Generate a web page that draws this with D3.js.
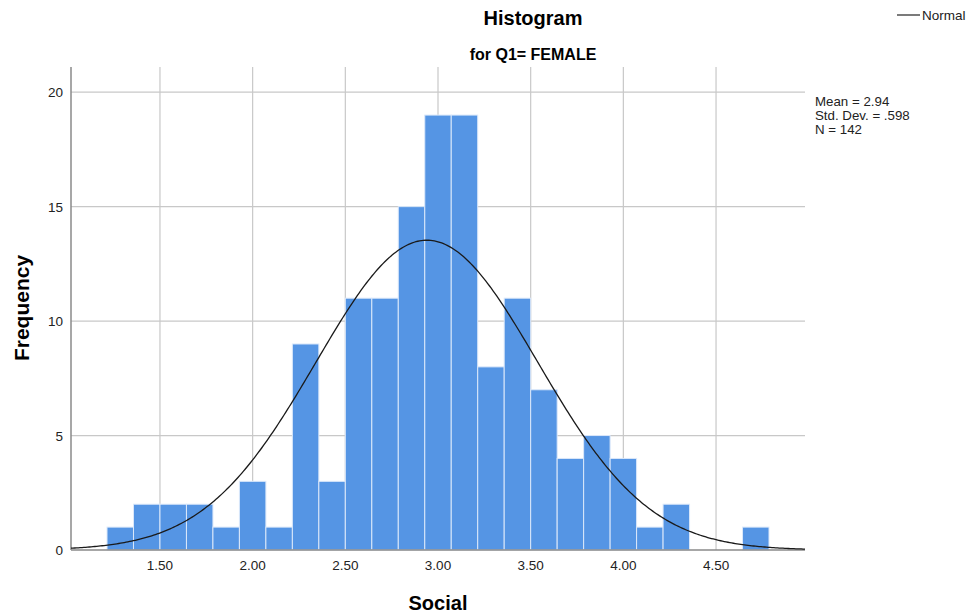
<!DOCTYPE html>
<html><head><meta charset="utf-8">
<script src="https://cdn.jsdelivr.net/npm/d3@7"></script>
<style>body{margin:0;background:#fff;font-family:"Liberation Sans",Arial,sans-serif;}</style>
</head><body><svg id="c" width="974" height="615"></svg>
<script>
const binLower = [1.2143,1.3571,1.5000,1.6429,1.7857,1.9286,2.0714,2.2143,2.3571,2.5000,2.6429,2.7857,2.9286,3.0714,3.2143,3.3571,3.5000,3.6429,3.7857,3.9286,4.0714,4.2143,4.3571,4.5000,4.6429];
const counts   = [1,2,2,2,1,3,1,9,3,11,11,15,19,19,8,11,7,4,5,4,1,2,0,0,1];
const binWidth = 1/7;
const xTicks = [1.5,2.0,2.5,3.0,3.5,4.0,4.5];
const yTicks = [0,5,10,15,20];
const stats = {mean:2.94, sd:0.598, n:142};
const statLines = ["Mean = 2.94","Std. Dev. = .598","N = 142"];

const svg = d3.select("#c");
const L=71,R=805,T=67,B=550;
const x = d3.scaleLinear().domain([1.02,4.98]).range([L,R]);
const y = d3.scaleLinear().domain([0,21.1]).range([B,T]);

// grid
svg.append("g").selectAll("line").data(xTicks).join("line")
  .attr("x1",d=>x(d)).attr("x2",d=>x(d)).attr("y1",T).attr("y2",B)
  .attr("stroke","#c8c8c8").attr("stroke-width",1.2);
svg.append("g").selectAll("line").data(yTicks.filter(d=>d>0)).join("line")
  .attr("x1",L).attr("x2",R).attr("y1",d=>y(d)).attr("y2",d=>y(d))
  .attr("stroke","#c8c8c8").attr("stroke-width",1.2);

// bars
svg.append("g").selectAll("rect").data(binLower.map((b,i)=>({b,c:counts[i]})).filter(d=>d.c>0)).join("rect")
  .attr("x",d=>x(d.b)).attr("width",d=>x(d.b+binWidth)-x(d.b))
  .attr("y",d=>y(d.c)).attr("height",d=>y(0)-y(d.c))
  .attr("fill","#5595e4").attr("stroke","#dbe8fa").attr("stroke-width",1);

// axes lines
svg.append("line").attr("x1",L).attr("x2",L).attr("y1",T).attr("y2",B).attr("stroke","#8a8a8a").attr("stroke-width",1.5);
svg.append("line").attr("x1",L).attr("x2",R).attr("y1",B).attr("y2",B).attr("stroke","#8a8a8a").attr("stroke-width",1.5);

// normal curve
const pts = d3.range(0,401).map(i=>1.02+i*(4.98-1.02)/400);
const dens = v => stats.n*binWidth/(stats.sd*Math.sqrt(2*Math.PI))*Math.exp(-0.5*Math.pow((v-stats.mean)/stats.sd,2));
svg.append("path").datum(pts).attr("fill","none").attr("stroke","#1a1a1a").attr("stroke-width",1.3)
  .attr("d",d3.line().x(d=>x(d)).y(d=>y(dens(d))));

// tick labels
svg.append("g").selectAll("text").data(xTicks).join("text")
  .attr("x",d=>x(d)).attr("y",570).attr("text-anchor","middle")
  .attr("font-size",13.5).attr("fill","#222").text(d=>d.toFixed(2));
svg.append("g").selectAll("text").data(yTicks).join("text")
  .attr("x",63).attr("y",d=>y(d)+5).attr("text-anchor","end")
  .attr("font-size",13.5).attr("fill","#222").text(d=>d);

// titles
svg.append("text").attr("x",533).attr("y",25).attr("text-anchor","middle").attr("font-size",20).attr("font-weight","bold").text("Histogram");
svg.append("text").attr("x",533).attr("y",60).attr("text-anchor","middle").attr("font-size",16).attr("font-weight","bold").text("for Q1= FEMALE");
svg.append("text").attr("transform","translate(29,308) rotate(-90)").attr("text-anchor","middle").attr("font-size",21).attr("font-weight","bold").text("Frequency");
svg.append("text").attr("x",438).attr("y",610).attr("text-anchor","middle").attr("font-size",20).attr("font-weight","bold").text("Social");

// legend
svg.append("line").attr("x1",897).attr("x2",920).attr("y1",15).attr("y2",15).attr("stroke","#333").attr("stroke-width",1.3);
svg.append("text").attr("x",922).attr("y",20).attr("font-size",13.5).attr("fill","#222").text("Normal");

// stats
svg.append("g").selectAll("text").data(statLines).join("text")
  .attr("x",815).attr("y",(d,i)=>106+i*14).attr("font-size",13.3).attr("fill","#222").text(d=>d);
</script></body></html>
